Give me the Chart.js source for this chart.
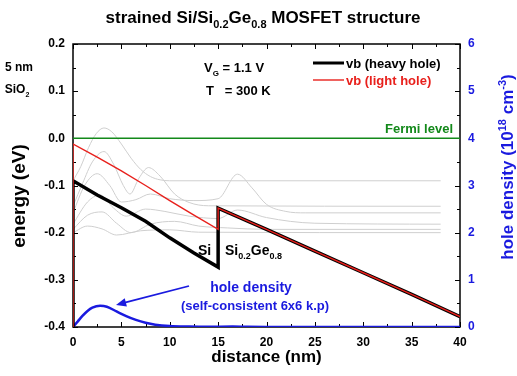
<!DOCTYPE html>
<html>
<head>
<meta charset="utf-8">
<script src="https://cdn.jsdelivr.net/npm/chart.js@4/dist/chart.umd.min.js"></script>
<style>
  html, body { margin: 0; padding: 0; background: #fff; }
  #wrap { width: 517px; height: 376px; position: relative; }
</style>
</head>
<body>
<div id="wrap"><canvas id="chart"></canvas></div>
<script>
// ---- data ----
// valence band edges (distance nm / energy eV), oxide wall at x = 0
const hhX = [0, 0, 2.5, 5, 7.5, 10, 12.5, 15, 15, 20, 25, 30, 35, 40];
const hhE = [-0.4, -0.09, -0.12, -0.147, -0.176, -0.211, -0.243, -0.273, -0.148, -0.193, -0.239, -0.285, -0.331, -0.378];
const lhX = [0, 0, 2.5, 5, 7.5, 10, 12.5, 15, 15, 20, 25, 30, 35, 40];
const lhE = [-0.4, -0.012, -0.040, -0.069, -0.100, -0.132, -0.163, -0.193, -0.148, -0.193, -0.239, -0.285, -0.331, -0.378];
const fermiX = [0, 40];
const fermiE = [0, 0];

// hole density (1e18 cm^-3)
const densX = [0, 0.5, 1, 1.5, 2, 2.8, 3.5, 4.5, 5.5, 6.5, 7.5, 8.5, 10, 12, 14, 16.5, 18, 20, 40];
const densV = [0, 0.12, 0.24, 0.34, 0.41, 0.45, 0.43, 0.33, 0.23, 0.15, 0.09, 0.05, 0.02, 0.008, 0.004, 0.01, 0.003, 0, 0];

// subband wavefunctions, offset to their energy levels  [x, E]
const wf1 = [[0,-0.09],[0.8,-0.06],[1.6,-0.02],[2.4,0.01],[3.2,0.022],[4,0.014],[5,-0.012],[6,-0.042],[7,-0.066],[8,-0.081],[9,-0.088],[10,-0.09],[38,-0.09]];
const wf2 = [[0,-0.144],[1,-0.095],[2,-0.05],[3.2,-0.028],[4.2,-0.055],[5.2,-0.1],[5.9,-0.118],[6.8,-0.085],[7.8,-0.062],[9,-0.08],[10.5,-0.118],[12,-0.136],[14,-0.143],[38,-0.144]];
const wf3 = [[0,-0.158],[1.2,-0.1],[2.5,-0.075],[3.8,-0.1],[5,-0.135],[6.5,-0.13],[8,-0.118],[10,-0.128],[12.5,-0.132],[15,-0.128],[17,-0.076],[18.5,-0.105],[20,-0.14],[22,-0.155],[24,-0.158],[38,-0.158]];
const wf4 = [[0,-0.182],[1.5,-0.135],[2.8,-0.12],[4.2,-0.148],[5.5,-0.165],[7.5,-0.15],[9.5,-0.155],[12,-0.165],[15,-0.17],[17,-0.152],[20,-0.168],[25,-0.18],[38,-0.182]];
const wf5 = [[0,-0.193],[1.5,-0.163],[3,-0.156],[4.5,-0.18],[6,-0.2],[8,-0.182],[10.5,-0.176],[13,-0.186],[16,-0.19],[20,-0.193],[38,-0.193]];
const wf6 = [[0,-0.2],[1.5,-0.186],[3,-0.192],[4.5,-0.205],[7,-0.196],[10,-0.194],[13,-0.199],[38,-0.2]];
const waveFns = [wf1, wf2, wf3, wf4, wf5, wf6];

const FONT = '"Liberation Sans", Arial, sans-serif';
const BLUE = '#1a1adf';

const pts = (xs, ys) => xs.map((x, i) => ({ x: x, y: ys[i] }));

const datasets = [
    { data: pts(lhX, lhE), borderColor: '#e8201c', borderWidth: 1.4, order: 1, yAxisID: 'y' },
    { data: pts(hhX, hhE), borderColor: '#000000', borderWidth: 3.5, order: 2, yAxisID: 'y' },
    { data: pts(densX, densV), borderColor: BLUE, borderWidth: 2.5, order: 3, yAxisID: 'y1', cubicInterpolationMode: 'monotone' },
    { data: pts(fermiX, fermiE), borderColor: '#13891a', borderWidth: 1.5, order: 4, yAxisID: 'y' }
];
waveFns.forEach(wf => {
    datasets.push({
        data: wf.map(p => ({ x: p[0], y: p[1] })),
        borderColor: '#cfcfcf', borderWidth: 1, order: 10, yAxisID: 'y',
        cubicInterpolationMode: 'monotone'
    });
});

// draw text with sub/superscript parts
function richText(ctx, parts, x, y, size, align) {
    const small = Math.round(size * 0.62);
    let total = 0;
    parts.forEach(p => {
        ctx.font = 'bold ' + (p.sub || p.sup ? small : size) + 'px ' + FONT;
        p.w = ctx.measureText(p.t).width;
        total += p.w;
    });
    let cx = align === 'center' ? x - total / 2 : (align === 'right' ? x - total : x);
    ctx.textAlign = 'left';
    ctx.textBaseline = 'alphabetic';
    parts.forEach(p => {
        ctx.font = 'bold ' + (p.sub || p.sup ? small : size) + 'px ' + FONT;
        let dy = p.sub ? size * 0.3 : (p.sup ? -size * 0.42 : 0);
        ctx.fillText(p.t, cx, y + dy);
        cx += p.w;
    });
}

const framePlugin = {
    id: 'frame',
    beforeDatasetsDraw(chart) {
        const { ctx, chartArea: a, scales } = chart;
        ctx.save();
        ctx.strokeStyle = '#000';
        ctx.lineWidth = 1.5;
        ctx.strokeRect(a.left, a.top, a.right - a.left, a.bottom - a.top);
        ctx.lineWidth = 1;
        ctx.beginPath();
        for (let v = 0; v <= 40.001; v += 2.5) {
            const px = Math.round(scales.x.getPixelForValue(v)) + 0.5;
            const len = Math.abs(v % 5) < 0.01 ? 5 : 3;
            ctx.moveTo(px, a.bottom); ctx.lineTo(px, a.bottom - len);
            ctx.moveTo(px, a.top); ctx.lineTo(px, a.top + len);
        }
        for (let i = 0; i <= 12; i++) {
            const v = -0.4 + i * 0.05;
            const py = Math.round(scales.y.getPixelForValue(v)) + 0.5;
            const len = i % 2 === 0 ? 5 : 3;
            ctx.moveTo(a.left, py); ctx.lineTo(a.left + len, py);
        }
        for (let i = 0; i <= 12; i++) {
            const py = Math.round(scales.y1.getPixelForValue(i * 0.5)) + 0.5;
            const len = i % 2 === 0 ? 5 : 3;
            ctx.moveTo(a.right, py); ctx.lineTo(a.right - len, py);
        }
        ctx.stroke();
        ctx.restore();
    },
    afterDraw(chart) {
        const { ctx, chartArea: a } = chart;
        ctx.save();
        ctx.fillStyle = '#000';
        // title
        richText(ctx, [{ t: 'strained Si/Si' }, { t: '0.2', sub: true }, { t: 'Ge' }, { t: '0.8', sub: true }, { t: ' MOSFET structure' }], 263, 23, 17, 'center');
        // x title
        richText(ctx, [{ t: 'distance (nm)' }], (a.left + a.right) / 2, 362, 17, 'center');
        // left y title
        ctx.save();
        ctx.translate(25, 196);
        ctx.rotate(-Math.PI / 2);
        richText(ctx, [{ t: 'energy (eV)' }], 0, 0, 19, 'center');
        ctx.restore();
        // right y title
        ctx.save();
        ctx.fillStyle = BLUE;
        ctx.translate(513, 167);
        ctx.rotate(-Math.PI / 2);
        richText(ctx, [{ t: 'hole density (10' }, { t: '18', sup: true }, { t: ' cm' }, { t: '-3', sup: true }, { t: ')' }], 0, 0, 17, 'center');
        ctx.restore();

        // oxide label
        richText(ctx, [{ t: '5 nm' }], 19, 71, 12, 'center');
        richText(ctx, [{ t: 'SiO' }, { t: '2', sub: true }], 17, 93, 12, 'center');

        // conditions
        richText(ctx, [{ t: 'V' }, { t: 'G', sub: true }, { t: ' = 1.1 V' }], 204, 72, 13, 'left');
        richText(ctx, [{ t: 'T   = 300 K' }], 206, 95, 13, 'left');

        // legend
        ctx.lineWidth = 3;
        ctx.strokeStyle = '#000';
        ctx.beginPath(); ctx.moveTo(313, 63); ctx.lineTo(344, 63); ctx.stroke();
        ctx.lineWidth = 1.4;
        ctx.strokeStyle = '#e8201c';
        ctx.beginPath(); ctx.moveTo(313, 80); ctx.lineTo(344, 80); ctx.stroke();
        richText(ctx, [{ t: 'vb (heavy hole)' }], 346, 68, 13, 'left');
        ctx.fillStyle = '#e8201c';
        richText(ctx, [{ t: 'vb (light hole)' }], 346, 85, 13, 'left');

        // Fermi level
        ctx.fillStyle = '#13891a';
        richText(ctx, [{ t: 'Fermi level' }], 453, 133, 13, 'right');

        // layer labels
        ctx.fillStyle = '#000';
        richText(ctx, [{ t: 'Si' }], 198, 255, 14, 'left');
        richText(ctx, [{ t: 'Si' }, { t: '0.2', sub: true }, { t: 'Ge' }, { t: '0.8', sub: true }], 225, 255, 14, 'left');

        // hole density annotation + arrow
        ctx.fillStyle = BLUE;
        richText(ctx, [{ t: 'hole density' }], 251, 292, 14, 'center');
        richText(ctx, [{ t: '(self-consistent 6x6 k.p)' }], 255, 310, 13, 'center');
        ctx.strokeStyle = BLUE;
        ctx.lineWidth = 1.8;
        const x0 = 189, y0 = 286, x1 = 116, y1 = 305;
        const ang = Math.atan2(y1 - y0, x1 - x0);
        ctx.beginPath();
        ctx.moveTo(x0, y0);
        ctx.lineTo(x1 - 6 * Math.cos(ang), y1 - 6 * Math.sin(ang));
        ctx.stroke();
        ctx.beginPath();
        ctx.moveTo(x1, y1);
        ctx.lineTo(x1 - 11 * Math.cos(ang - 0.4), y1 - 11 * Math.sin(ang - 0.4));
        ctx.lineTo(x1 - 11 * Math.cos(ang + 0.4), y1 - 11 * Math.sin(ang + 0.4));
        ctx.closePath();
        ctx.fill();
        ctx.restore();
    }
};

const tickFont = { family: FONT, size: 12, weight: 'bold' };

new Chart(document.getElementById('chart'), {
    type: 'line',
    data: { datasets: datasets },
    options: {
        responsive: true,
        maintainAspectRatio: false,
        animation: false,
        events: [],
        elements: { point: { radius: 0 }, line: { tension: 0 } },
        layout: { padding: { top: 44, left: 0, right: 0, bottom: 0 } },
        plugins: { legend: { display: false }, tooltip: { enabled: false }, title: { display: false } },
        scales: {
            x: {
                type: 'linear', min: 0, max: 40,
                grid: { display: false, drawTicks: false },
                border: { display: false },
                ticks: { stepSize: 5, color: '#000', font: tickFont, padding: 8, maxRotation: 0 },
                afterFit: s => { s.height = 49; }
            },
            y: {
                type: 'linear', position: 'left', min: -0.4, max: 0.2,
                grid: { display: false, drawTicks: false },
                border: { display: false },
                ticks: { stepSize: 0.1, color: '#000', font: tickFont, padding: 8, callback: v => v.toFixed(1) },
                afterFit: s => { s.width = 73; }
            },
            y1: {
                type: 'linear', position: 'right', min: 0, max: 6,
                grid: { display: false, drawTicks: false },
                border: { display: false },
                ticks: { stepSize: 1, color: BLUE, font: tickFont, padding: 8 },
                afterFit: s => { s.width = 57; }
            }
        }
    },
    plugins: [framePlugin]
});
</script>
</body>
</html>
